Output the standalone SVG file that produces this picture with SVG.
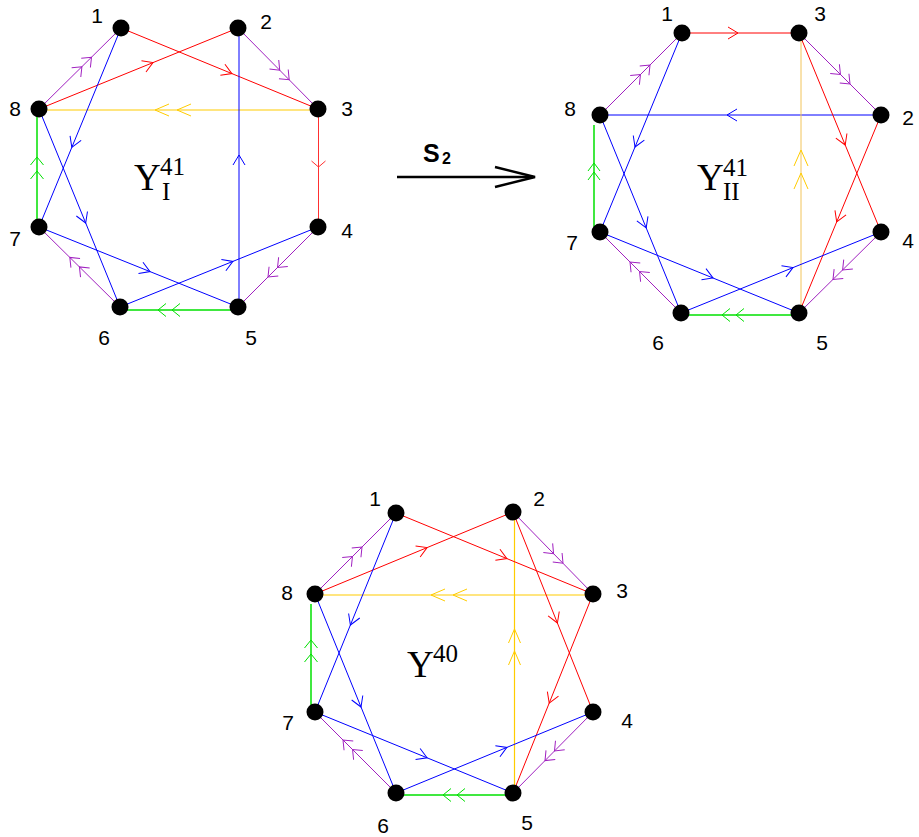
<svg xmlns="http://www.w3.org/2000/svg" width="919" height="837" viewBox="0 0 919 837">
<style>
.e{fill:none;stroke-width:1}
.r{stroke:#ff0000}
.b{stroke:#0000ff}
.p{stroke:#a020c0}
.g{stroke:#00e000;stroke-width:1.5}
.y{stroke:#ffcc00;stroke-width:1.2}
.node circle{fill:#000}
.node text{font-family:"Liberation Sans",Arial,sans-serif;font-size:21px;text-anchor:middle;fill:#000}
.title{font-family:"Liberation Serif","Times New Roman",serif;fill:#000}
.big{font-size:37px}
.small{font-size:25px}
.s2{font-family:"Liberation Sans",Arial,sans-serif;font-weight:bold;fill:#000}
.mk{fill:none;stroke-width:1}
</style>
<defs>
<marker id="aR" markerUnits="userSpaceOnUse" orient="auto" overflow="visible" markerWidth="1" markerHeight="1"><path class="mk" stroke="#ff0000" d="M-10,-6L0,0L-10,6"/></marker>
<marker id="aRw" markerUnits="userSpaceOnUse" orient="auto" overflow="visible" markerWidth="1" markerHeight="1"><path class="mk" stroke="#ff3030" d="M-6,-7L0,0L-6,7"/></marker>
<marker id="aB" markerUnits="userSpaceOnUse" orient="auto" overflow="visible" markerWidth="1" markerHeight="1"><path class="mk" stroke="#0000ff" d="M-10,-6L0,0L-10,6"/></marker>
<marker id="dP" markerUnits="userSpaceOnUse" orient="auto" overflow="visible" markerWidth="1" markerHeight="1"><path class="mk" stroke="#a020c0" d="M-8,-6.5L0,0L-8,6.5M-21.5,-6.5L-13.5,0L-21.5,6.5"/></marker>
<marker id="dG" markerUnits="userSpaceOnUse" orient="auto" overflow="visible" markerWidth="1" markerHeight="1"><path class="mk" stroke="#00e000" d="M-8,-6.5L0,0L-8,6.5M-22,-6.5L-14,0L-22,6.5"/></marker>
<marker id="dG2" markerUnits="userSpaceOnUse" orient="auto" overflow="visible" markerWidth="1" markerHeight="1"><path class="mk" stroke="#00e000" d="M-8,-6L0,0L-8,6M-17,-6L-9,0L-17,6"/></marker>
<marker id="dY" markerUnits="userSpaceOnUse" orient="auto" overflow="visible" markerWidth="1" markerHeight="1"><path class="mk" stroke="#ffcc00" d="M-14,-6L0,0L-14,6M-36,-6L-22,0L-36,6"/></marker>
<marker id="dY2" markerUnits="userSpaceOnUse" orient="auto" overflow="visible" markerWidth="1" markerHeight="1"><path class="mk" stroke="#ffcc00" d="M-16,-7L0,0L-16,7M-39,-7L-23,0L-39,7"/></marker>
</defs>

<g id="connectors">
  <g id="edges-Y41I">
    <path class="e p" marker-mid="url(#dP)" d="M39,109L91.5,57.2L121,28"/>
    <path class="e p" marker-mid="url(#dP)" d="M238,28L289.2,79.8L318,109"/>
    <path class="e p" marker-mid="url(#dP)" d="M318,227L268,277L238,307"/>
    <path class="e p" marker-mid="url(#dP)" d="M120,307L69.8,257.4L39,227"/>
    <path class="e g" marker-mid="url(#dG)" d="M37,227L37,157L37,109"/>
    <path class="e g" marker-mid="url(#dG)" d="M238,310L158,310L120,310"/>
    <path class="e y" marker-mid="url(#dY)" d="M318,110L155,110L39,110"/>
    <path class="e" stroke="#ff3030" stroke-width="1.3" marker-mid="url(#aRw)" d="M318.5,109L318.5,167L318.5,227"/>
    <path class="e r" marker-mid="url(#aR)" d="M121,28L231.9,73.6L318,109"/>
    <path class="e r" marker-mid="url(#aR)" d="M39,109L153,62.6L238,28"/>
    <path class="e b" marker-mid="url(#aB)" d="M121,28L71.8,147.4L39,227"/>
    <path class="e b" marker-mid="url(#aB)" d="M39,109L85.7,223L120,307"/>
    <path class="e b" marker-mid="url(#aB)" d="M39,227L150,271.6L238,307"/>
    <path class="e b" marker-mid="url(#aB)" d="M120,307L232.9,261.4L318,227"/>
    <path class="e b" marker-mid="url(#aB)" d="M239,307L239,155L239,28"/>
  </g>
  <g id="edges-Y41II">
    <path class="e r" marker-mid="url(#aR)" d="M682,33L738,33L799,33"/>
    <path class="e p" marker-mid="url(#dP)" d="M799,33L850,84L881,115"/>
    <path class="e p" marker-mid="url(#dP)" d="M600,115L650,65L682,33"/>
    <path class="e b" marker-mid="url(#aB)" d="M881,115L727,115L600,115"/>
    <path class="e r" marker-mid="url(#aR)" d="M799,33L845.2,145L881,232"/>
    <path class="e r" marker-mid="url(#aR)" d="M881,115L836.7,221.9L799,313"/>
    <path class="e" stroke="#f2c45a" stroke-width="1.5" marker-mid="url(#dY2)" d="M801,313L801,150L801,33"/>
    <path class="e g" marker-mid="url(#dG2)" d="M594,232L594,163L594,125"/>
    <path class="e b" marker-mid="url(#aB)" d="M682,33L635,147L600,232"/>
    <path class="e b" marker-mid="url(#aB)" d="M600,115L646.2,227.9L681,313"/>
    <path class="e b" marker-mid="url(#aB)" d="M600,232L713,278L799,313"/>
    <path class="e b" marker-mid="url(#aB)" d="M681,313L793,267.6L881,232"/>
    <path class="e p" marker-mid="url(#dP)" d="M681,313L630,262L600,232"/>
    <path class="e p" marker-mid="url(#dP)" d="M881,232L833,279.4L799,313"/>
    <path class="e g" marker-mid="url(#dG)" d="M799,315L722,315L681,315"/>
  </g>
  <g id="edges-Y40">
    <path class="e p" marker-mid="url(#dP)" d="M315,594L362,547L396,513"/>
    <path class="e p" marker-mid="url(#dP)" d="M513,512L563,563.3L593,594"/>
    <path class="e p" marker-mid="url(#dP)" d="M593,712L545,760.6L513,793"/>
    <path class="e p" marker-mid="url(#dP)" d="M396,793L343,740L315,712"/>
    <path class="e g" marker-mid="url(#dG)" d="M311,712L311,640L311,604"/>
    <path class="e g" marker-mid="url(#dG)" d="M513,795L443,795L396,795"/>
    <path class="e y" marker-mid="url(#dY)" d="M593,595L431,595L315,595"/>
    <path class="e y" marker-mid="url(#dY)" d="M514.5,793L514.5,629L514.5,512"/>
    <path class="e r" marker-mid="url(#aR)" d="M396,513L506.9,558.6L593,594"/>
    <path class="e r" marker-mid="url(#aR)" d="M315,594L427.1,547.6L513,512"/>
    <path class="e r" marker-mid="url(#aR)" d="M513,512L557.4,623L593,712"/>
    <path class="e r" marker-mid="url(#aR)" d="M593,594L549.2,703.1L513,793"/>
    <path class="e b" marker-mid="url(#aB)" d="M396,513L350.4,625L315,712"/>
    <path class="e b" marker-mid="url(#aB)" d="M315,594L361,707L396,793"/>
    <path class="e b" marker-mid="url(#aB)" d="M315,712L427.1,757.8L513,793"/>
    <path class="e b" marker-mid="url(#aB)" d="M396,793L506.9,747.4L593,712"/>
  </g>
  <g id="s2-arrow">
    <path d="M397,177L533,177" stroke="#000" stroke-width="2.5" fill="none"/>
    <path d="M495,167L535,177L495,187" stroke="#000" stroke-width="2.5" fill="none"/>
  </g>
</g>

<g id="Y41I-nodes">
  <g id="a1" class="node"><circle cx="121" cy="28" r="8.5"/><text x="97" y="22.5">1</text></g>
  <g id="a2" class="node"><circle cx="238" cy="28" r="8.5"/><text x="266" y="28.5">2</text></g>
  <g id="a3" class="node"><circle cx="318" cy="109" r="8.5"/><text x="347" y="115.5">3</text></g>
  <g id="a4" class="node"><circle cx="318" cy="227" r="8.5"/><text x="347" y="237.5">4</text></g>
  <g id="a5" class="node"><circle cx="238" cy="307" r="8.5"/><text x="251" y="344.5">5</text></g>
  <g id="a6" class="node"><circle cx="120" cy="307" r="8.5"/><text x="104" y="344.5">6</text></g>
  <g id="a7" class="node"><circle cx="39" cy="227" r="8.5"/><text x="15" y="245.5">7</text></g>
  <g id="a8" class="node"><circle cx="39" cy="109" r="8.5"/><text x="15" y="115.5">8</text></g>
</g>
<g id="Y41II-nodes">
  <g id="b1" class="node"><circle cx="682" cy="33" r="8.5"/><text x="667" y="20.5">1</text></g>
  <g id="b3" class="node"><circle cx="799" cy="33" r="8.5"/><text x="820" y="20.5">3</text></g>
  <g id="b2" class="node"><circle cx="881" cy="115" r="8.5"/><text x="908" y="124.5">2</text></g>
  <g id="b4" class="node"><circle cx="881" cy="232" r="8.5"/><text x="908" y="247.5">4</text></g>
  <g id="b5" class="node"><circle cx="799" cy="313" r="8.5"/><text x="822" y="349.5">5</text></g>
  <g id="b6" class="node"><circle cx="681" cy="313" r="8.5"/><text x="658" y="349.5">6</text></g>
  <g id="b7" class="node"><circle cx="600" cy="232" r="8.5"/><text x="572" y="249.5">7</text></g>
  <g id="b8" class="node"><circle cx="600" cy="115" r="8.5"/><text x="570" y="115.5">8</text></g>
</g>
<g id="Y40-nodes">
  <g id="c1" class="node"><circle cx="396" cy="513" r="8.5"/><text x="375" y="505.5">1</text></g>
  <g id="c2" class="node"><circle cx="513" cy="512" r="8.5"/><text x="539" y="505.5">2</text></g>
  <g id="c3" class="node"><circle cx="593" cy="594" r="8.5"/><text x="622" y="597.5">3</text></g>
  <g id="c4" class="node"><circle cx="593" cy="712" r="8.5"/><text x="627" y="727.5">4</text></g>
  <g id="c5" class="node"><circle cx="513" cy="793" r="8.5"/><text x="527" y="829.5">5</text></g>
  <g id="c6" class="node"><circle cx="396" cy="793" r="8.5"/><text x="383" y="832.5">6</text></g>
  <g id="c7" class="node"><circle cx="315" cy="712" r="8.5"/><text x="288" y="729.5">7</text></g>
  <g id="c8" class="node"><circle cx="315" cy="594" r="8.5"/><text x="287" y="599.5">8</text></g>
</g>

<g id="titles">
  <text class="title"><tspan class="big" x="134" y="190">Y</tspan><tspan class="small" x="160" y="175">41</tspan><tspan class="small" x="162" y="200">I</tspan></text>
  <text class="title"><tspan class="big" x="697" y="190">Y</tspan><tspan class="small" x="723" y="176">41</tspan><tspan class="small" x="723" y="200">II</tspan></text>
  <text class="title"><tspan class="big" x="407" y="677">Y</tspan><tspan class="small" x="433" y="662">40</tspan></text>
  <text class="s2"><tspan x="423" y="162" style="font-size:25px">S</tspan><tspan x="442" y="164" style="font-size:16px">2</tspan></text>
</g>
</svg>
